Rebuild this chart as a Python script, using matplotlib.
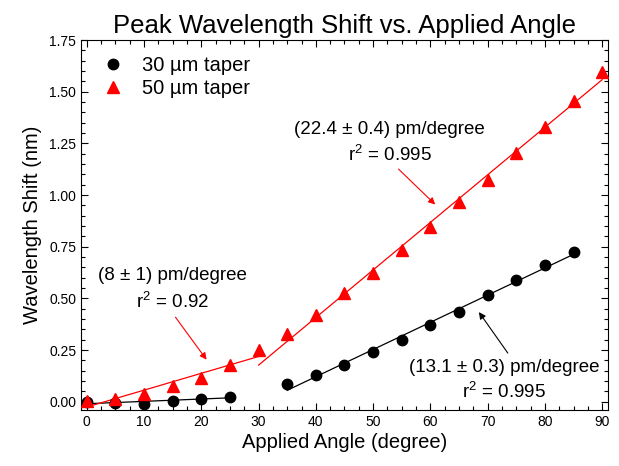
import numpy as np
import matplotlib
matplotlib.use("Agg")
import matplotlib.pyplot as plt
from matplotlib.ticker import MultipleLocator

plt.rcParams["font.family"] = ["Liberation Sans", "DejaVu Sans"]
plt.rcParams["mathtext.fontset"] = "custom"
plt.rcParams["mathtext.rm"] = "Liberation Sans"
plt.rcParams["mathtext.it"] = "Liberation Sans"

# angles (degree) and wavelength shifts (nm)
angle_30 = [0, 5, 10, 15, 20, 25, 35, 40, 45, 50, 55, 60, 65, 70, 75, 80, 85]
shift_30 = [0.0, -0.005, -0.01, 0.005, 0.015, 0.025, 0.085, 0.13, 0.18, 0.24,
            0.30, 0.37, 0.435, 0.515, 0.59, 0.66, 0.725]
angle_50 = [0, 5, 10, 15, 20, 25, 30, 35, 40, 45, 50, 55, 60, 65, 70, 75, 80, 85, 90]
shift_50 = [0.005, 0.015, 0.04, 0.075, 0.115, 0.18, 0.25, 0.33, 0.42, 0.525, 0.625,
            0.735, 0.845, 0.965, 1.075, 1.205, 1.33, 1.455, 1.595]

# linear fit ranges: (fit from, fit to, draw from, draw to)
fits_30 = [(0, 25, 0, 25), (35, 85, 35, 85)]
fits_50 = [(0, 30, 0, 30), (35, 90, 30, 90)]

fig = plt.figure(figsize=(6.19, 4.66), dpi=100)
ax = fig.add_axes([0.131, 0.12, 0.851, 0.794])


def draw_fits(xs, ys, ranges, color):
    xs = np.array(xs)
    ys = np.array(ys)
    for a, b, d0, d1 in ranges:
        m = (xs >= a) & (xs <= b)
        k, c = np.polyfit(xs[m], ys[m], 1)
        xx = np.array([d0, d1])
        ax.plot(xx, k * xx + c, color=color, lw=0.9, zorder=2)


draw_fits(angle_30, shift_30, fits_30, "black")
draw_fits(angle_50, shift_50, fits_50, "red")

ax.plot(angle_30, shift_30, "o", color="black", ms=7.5, ls="none",
        label="30 µm taper", zorder=3)
ax.plot(angle_50, shift_50, "^", color="red", ms=8.5, ls="none",
        label="50 µm taper", zorder=3)

ax.set_xlim(-1, 91)
ax.set_ylim(-0.04, 1.75)
ax.xaxis.set_major_locator(MultipleLocator(10))
ax.xaxis.set_minor_locator(MultipleLocator(2.5))
ax.yaxis.set_major_locator(MultipleLocator(0.25))
ax.yaxis.set_minor_locator(MultipleLocator(0.05))
ax.yaxis.set_major_formatter(matplotlib.ticker.FormatStrFormatter("%.2f"))
ax.tick_params(which="both", direction="in", top=True, right=True, labelsize=10)
ax.tick_params(which="major", length=5, width=0.8)
ax.tick_params(which="minor", length=3, width=0.8)

ax.set_title("Peak Wavelength Shift vs. Applied Angle", fontsize=18.5, pad=5)
ax.set_xlabel("Applied Angle (degree)", fontsize=14.5, labelpad=3)
ax.set_ylabel("Wavelength Shift (nm)", fontsize=14.5, labelpad=5)

ax.legend(loc="upper left", bbox_to_anchor=(0.0, 1.0), frameon=False,
          fontsize=14.5, handlelength=1.6, handletextpad=0.6,
          borderaxespad=0.4, labelspacing=0.2)

arrow = dict(arrowstyle="-|>", lw=0.8, mutation_scale=10)

ax.annotate("", xy=(61.2, 0.945), xytext=(54.1, 1.135),
            arrowprops=dict(arrow, color="red"))
ax.text(52.9, 1.315, "(22.4 ± 0.4) pm/degree", ha="center", va="center", fontsize=13.5)
ax.text(52.9, 1.195, "r$^2$ = 0.995", ha="center", va="center", fontsize=13.5)

ax.annotate("", xy=(21.2, 0.193), xytext=(15.2, 0.42),
            arrowprops=dict(arrow, color="red"))
ax.text(15.0, 0.61, "(8 ± 1) pm/degree", ha="center", va="center", fontsize=13.5)
ax.text(15.0, 0.485, "r$^2$ = 0.92", ha="center", va="center", fontsize=13.5)

ax.annotate("", xy=(68.2, 0.445), xytext=(73.8, 0.225),
            arrowprops=dict(arrow, color="black"))
ax.text(72.9, 0.165, "(13.1 ± 0.3) pm/degree", ha="center", va="center", fontsize=13.5)
ax.text(72.9, 0.048, "r$^2$ = 0.995", ha="center", va="center", fontsize=13.5)

fig.savefig("out.png", dpi=100)
